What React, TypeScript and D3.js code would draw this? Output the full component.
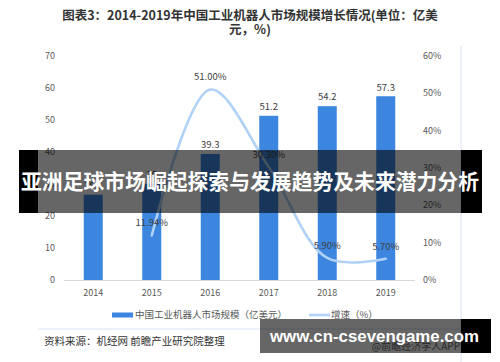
import React, { useEffect, useRef } from "react";
import * as d3 from "d3";

// data
const years = ["2014", "2015", "2016", "2017", "2018", "2019"];
const marketSize = [26.6, 30, 39.3, 51.2, 54.2, 57.3];
const growthRate = [null, 11.94, 51.0, 30.3, 5.9, 5.7];
const leftTicks = [0, 10, 20, 30, 40, 50, 60, 70];
const rightTicks = [0, 10, 20, 30, 40, 50, 60];

const titleLines = ["图表3：2014-2019年中国工业机器人市场规模增长情况(单位：亿美", "元，%)"];
const legendNames = ["中国工业机器人市场规模（亿美元）", "增速（%）"];
const sourceText = "资料来源：机经网 前瞻产业研究院整理";
const bannerText = "亚洲足球市场崛起探索与发展趋势及未来潜力分析";
const siteText = "www.cn-csevengame.com";

const FONT = "'Noto Sans CJK SC', 'Noto Sans', sans-serif";

export default function App() {
  const ref = useRef<SVGSVGElement>(null);

  useEffect(() => {
    document.body.style.margin = "0";
    const svg = d3.select(ref.current);
    svg.selectAll("*").remove();

    var width = 500,
      height = 362;

    svg.append("rect").attr("width", width).attr("height", height).attr("fill", "#fff");

    var x = d3.scaleBand().domain(years).range([64, 415]);
    var yLeft = d3.scaleLinear().domain([0, 70]).range([280, 55.5]);
    var yRight = d3.scaleLinear().domain([0, 60]).range([280, 56]);
    var barW = x.bandwidth() * 0.325;
    var cx = function(d: string) {
      return (x(d) as number) + x.bandwidth() / 2;
    };

    // title
    svg
      .selectAll(".title")
      .data(titleLines)
      .enter()
      .append("text")
      .attr("x", 250)
      .attr("y", (d, i) => 16 + i * 13.5)
      .attr("dy", "0.35em")
      .attr("text-anchor", "middle")
      .style("font-family", FONT)
      .style("font-size", "12.5px")
      .style("font-weight", "bold")
      .style("fill", "#333")
      .text(d => d);

    // right frame line
    svg
      .append("line")
      .attr("x1", 461)
      .attr("x2", 461)
      .attr("y1", 46)
      .attr("y2", 362)
      .style("stroke", "#e6edf7")
      .style("stroke-width", 1.5);

    // baseline
    svg
      .append("line")
      .attr("x1", 64)
      .attr("x2", 415)
      .attr("y1", 280.5)
      .attr("y2", 280.5)
      .style("stroke", "#d9d9d9");

    // left axis labels
    svg
      .selectAll(".ly")
      .data(leftTicks)
      .enter()
      .append("text")
      .attr("x", 55)
      .attr("y", d => yLeft(d))
      .attr("dy", "0.35em")
      .attr("text-anchor", "end")
      .style("font-family", FONT)
      .style("font-size", "9px")
      .style("fill", "#595959")
      .text(d => d);

    // right axis labels
    svg
      .selectAll(".ry")
      .data(rightTicks)
      .enter()
      .append("text")
      .attr("x", 423)
      .attr("y", d => yRight(d))
      .attr("dy", "0.35em")
      .style("font-family", FONT)
      .style("font-size", "9px")
      .style("fill", "#595959")
      .text(d => d + "%");

    // x labels
    svg
      .selectAll(".xl")
      .data(years)
      .enter()
      .append("text")
      .attr("x", d => cx(d))
      .attr("y", 293)
      .attr("dy", "0.35em")
      .attr("text-anchor", "middle")
      .style("font-family", FONT)
      .style("font-size", "9px")
      .style("fill", "#595959")
      .text(d => d);

    // bars
    svg
      .selectAll(".bar")
      .data(marketSize)
      .enter()
      .append("rect")
      .attr("x", (d, i) => cx(years[i]) - barW / 2)
      .attr("y", d => yLeft(d))
      .attr("width", barW)
      .attr("height", d => yLeft(0) - yLeft(d))
      .style("fill", "#3d86e0");

    svg
      .selectAll(".barlabel")
      .data(marketSize)
      .enter()
      .append("text")
      .attr("x", (d, i) => cx(years[i]))
      .attr("y", d => yLeft(d) - 9)
      .attr("dy", "0.35em")
      .attr("text-anchor", "middle")
      .style("font-family", FONT)
      .style("font-size", "9.5px")
      .style("fill", "#404040")
      .text(d => String(d));

    // growth line
    var pts = growthRate
      .map((g, i) => ({ year: years[i], g: g }))
      .filter(p => p.g !== null) as { year: string; g: number }[];

    var line = d3
      .line<{ year: string; g: number }>()
      .x(d => cx(d.year))
      .y(d => yRight(d.g))
      .curve(d3.curveCatmullRom.alpha(0.5));

    svg
      .append("path")
      .datum(pts)
      .attr("d", line)
      .style("fill", "none")
      .style("stroke", "#afd2f6")
      .style("stroke-width", 2.6)
      .style("stroke-linecap", "round");

    svg
      .selectAll(".glabel")
      .data(pts)
      .enter()
      .append("text")
      .attr("x", d => cx(d.year))
      .attr("y", d => yRight(d.g) - 12.5)
      .attr("dy", "0.35em")
      .attr("text-anchor", "middle")
      .style("font-family", FONT)
      .style("font-size", "9.5px")
      .style("fill", "#404040")
      .text(d => d.g.toFixed(2) + "%");

    // legend
    svg
      .append("rect")
      .attr("x", 112)
      .attr("y", 312.5)
      .attr("width", 21)
      .attr("height", 5)
      .style("fill", "#3d86e0");
    svg
      .append("line")
      .attr("x1", 309)
      .attr("x2", 330)
      .attr("y1", 315)
      .attr("y2", 315)
      .style("stroke", "#afd2f6")
      .style("stroke-width", 2.6);
    svg
      .selectAll(".leg")
      .data(legendNames)
      .enter()
      .append("text")
      .attr("x", (d, i) => (i === 0 ? 135 : 331))
      .attr("y", 315)
      .attr("dy", "0.35em")
      .style("font-family", FONT)
      .style("font-size", "9.5px")
      .style("fill", "#595959")
      .text(d => d);

    // separator and source
    svg
      .append("line")
      .attr("x1", 38)
      .attr("x2", 461)
      .attr("y1", 329)
      .attr("y2", 329)
      .style("stroke", "#e6edf7")
      .style("stroke-width", 1.5);
    svg
      .append("text")
      .attr("x", 44)
      .attr("y", 341.5)
      .attr("dy", "0.35em")
      .style("font-family", FONT)
      .style("font-size", "10.5px")
      .style("fill", "#333")
      .text(sourceText);
    svg
      .append("text")
      .attr("x", 460)
      .attr("y", 346)
      .attr("dy", "0.35em")
      .attr("text-anchor", "end")
      .style("font-family", FONT)
      .style("font-size", "10px")
      .style("fill", "#666")
      .text("@前瞻经济学人APP");

    // overlay banner: black ends, translucent middle so the chart shows through
    svg.append("rect").attr("x", 19).attr("y", 150).attr("width", 19).attr("height", 63).style("fill", "#000");
    svg.append("rect").attr("x", 461).attr("y", 150).attr("width", 21).attr("height", 63).style("fill", "#000");
    svg
      .append("rect")
      .attr("x", 38)
      .attr("y", 150)
      .attr("width", 423)
      .attr("height", 63)
      .style("fill", "#000")
      .style("opacity", 0.6);
    svg
      .append("text")
      .attr("x", 250)
      .attr("y", 182)
      .attr("dy", "0.35em")
      .attr("text-anchor", "middle")
      .attr("textLength", 458)
      .attr("lengthAdjust", "spacingAndGlyphs")
      .style("font-family", FONT)
      .style("font-size", "21px")
      .style("font-weight", "bold")
      .style("fill", "#fff")
      .text(bannerText);

    // site banner
    svg.append("rect").attr("x", 461).attr("y", 319).attr("width", 30).attr("height", 34).style("fill", "#000");
    svg
      .append("rect")
      .attr("x", 260)
      .attr("y", 319)
      .attr("width", 201)
      .attr("height", 34)
      .style("fill", "#000")
      .style("opacity", 0.6);
    svg
      .append("text")
      .attr("x", 270)
      .attr("y", 336.5)
      .attr("dy", "0.35em")
      .attr("textLength", 209)
      .attr("lengthAdjust", "spacingAndGlyphs")
      .style("font-family", "'Liberation Sans', Arial, sans-serif")
      .style("font-size", "17px")
      .style("font-weight", "bold")
      .style("fill", "#fff")
      .text(siteText);
  }, []);

  return <svg ref={ref} width={500} height={362} style={{ display: "block" }} />;
}
